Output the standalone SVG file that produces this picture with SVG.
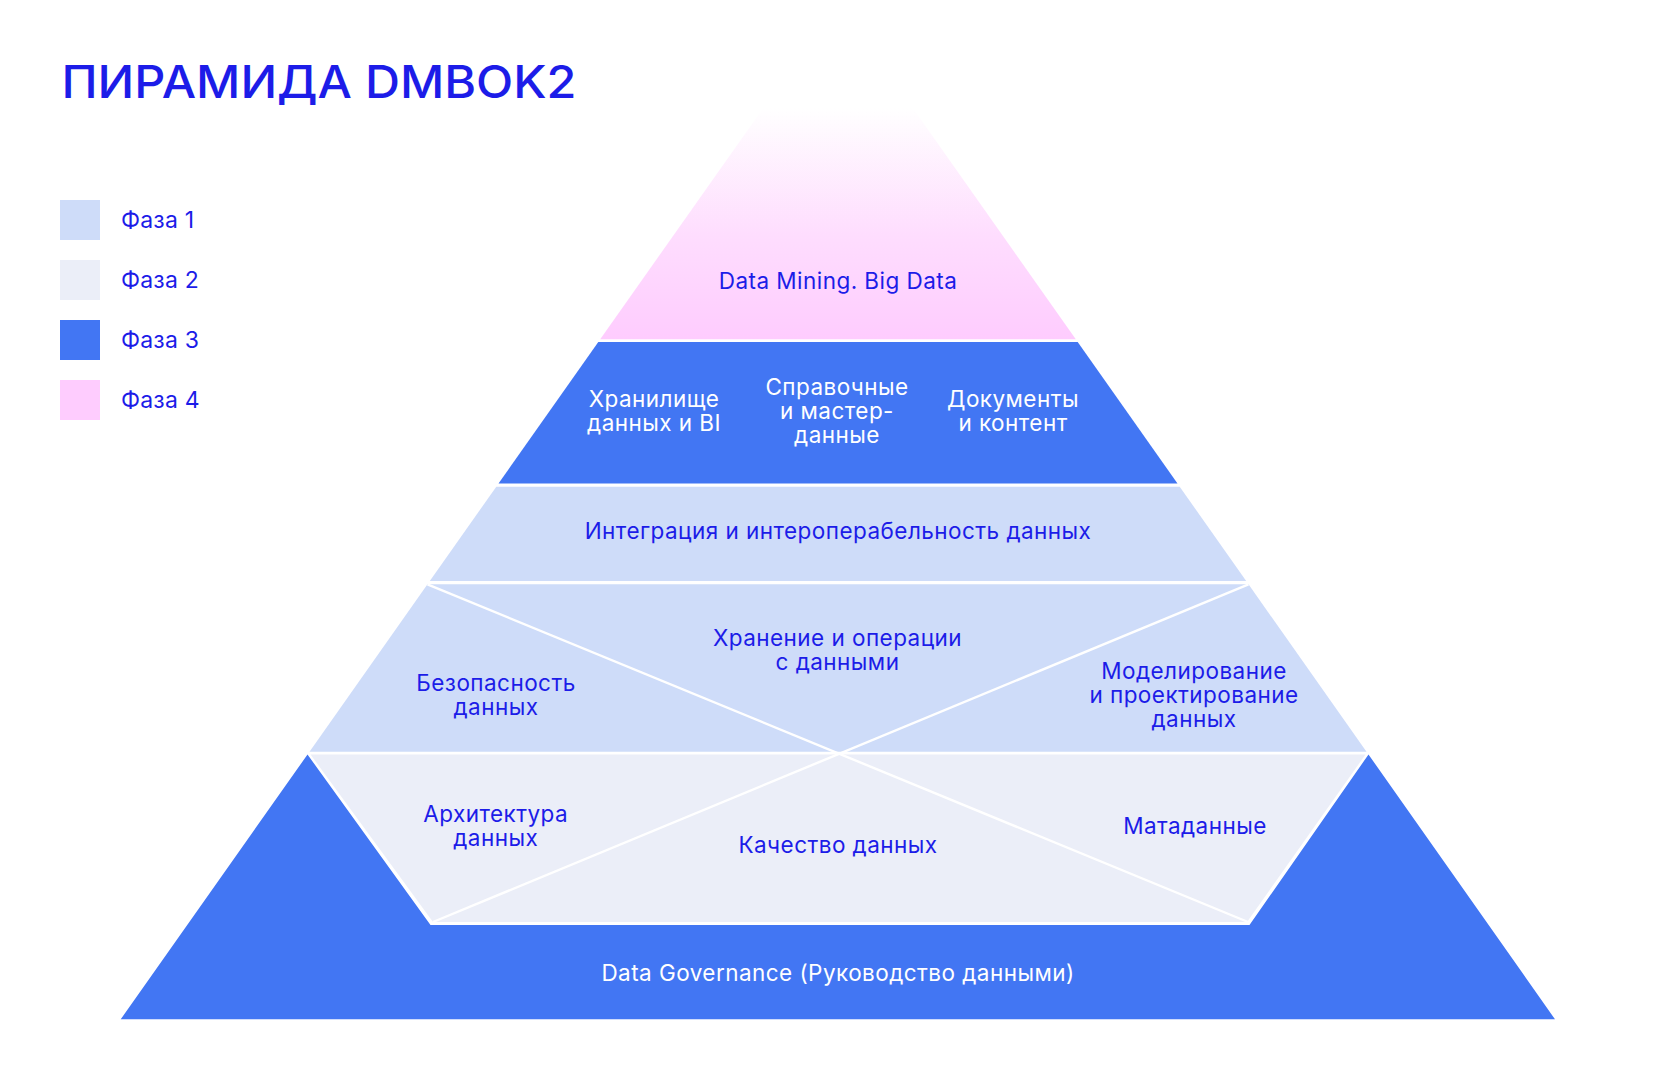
<svg xmlns="http://www.w3.org/2000/svg" width="1676" height="1080" viewBox="0 0 1676 1080">
  <defs>
    <linearGradient id="pinkFade" gradientUnits="userSpaceOnUse" x1="0" y1="339" x2="0" y2="108">
      <stop offset="0" stop-color="#FECCFE"/>
      <stop offset="0.45" stop-color="#FEDDFE"/>
      <stop offset="1" stop-color="#FFFFFF"/>
    </linearGradient>
  </defs>
  <style>
    .t { font-family: Inter, "Noto Sans", "Liberation Sans", sans-serif; font-size: 22.5px; letter-spacing: 0.45px; fill: #1C1CE8; text-anchor: middle; }
    .w { fill: #FFFFFF; }
    .lg { font-family: Inter, "Noto Sans", "Liberation Sans", sans-serif; font-size: 23px; letter-spacing: 0.2px; fill: #1C1CE8; }
    .title { font-family: Inter, "Noto Sans", "Liberation Sans", sans-serif; font-size: 45px; font-weight: 500; fill: #1C1CE8; }
    .p1 { fill: #CEDCF9; }
    .p2 { fill: #EBEEF8; }
    .p3 { fill: #4276F3; }
    .sep { stroke: #FFFFFF; stroke-width: 2.4; fill: none; }
  </style>
  <rect x="0" y="0" width="1676" height="1080" fill="#FFFFFF"/>

  <g id="title">
    <text class="title" x="61.5" y="97.7" textLength="515" lengthAdjust="spacingAndGlyphs">ПИРАМИДА DMBOK2</text>
  </g>

  <g id="legend">
    <g id="legend-phase1">
      <rect class="p1" x="60" y="200" width="40" height="40"/>
      <text class="lg" x="121" y="228.3">Фаза 1</text>
    </g>
    <g id="legend-phase2">
      <rect class="p2" x="60" y="260" width="40" height="40"/>
      <text class="lg" x="121" y="288.3">Фаза 2</text>
    </g>
    <g id="legend-phase3">
      <rect class="p3" x="60" y="320" width="40" height="40"/>
      <text class="lg" x="121" y="348.3">Фаза 3</text>
    </g>
    <g id="legend-phase4">
      <rect fill="#FECCFE" x="60" y="380" width="40" height="40"/>
      <text class="lg" x="121" y="408.3">Фаза 4</text>
    </g>
  </g>

  <g id="tier-data-mining">
    <polygon fill="url(#pinkFade)" points="768.9,100 907.1,100 1075.8,339.3 600.2,339.3"/>
    <text class="t" x="838" y="289.3">Data Mining. Big Data</text>
  </g>

  <g id="tier-phase3">
    <polygon class="p3" points="598.3,342 1077.7,342 1177.5,483.5 498.5,483.5"/>
    <g id="node-dwh">
      <text class="t w" x="654" y="406.7"><tspan x="654">Хранилище</tspan><tspan x="654" dy="24.3">данных и BI</tspan></text>
    </g>
    <g id="node-mdm">
      <text class="t w" x="837" y="394.5"><tspan x="837">Справочные</tspan><tspan x="837" dy="24.3">и мастер-</tspan><tspan x="837" dy="24.3">данные</tspan></text>
    </g>
    <g id="node-docs">
      <text class="t w" x="1013" y="406.7"><tspan x="1013">Документы</tspan><tspan x="1013" dy="24.3">и контент</tspan></text>
    </g>
  </g>

  <g id="tier-integration">
    <polygon class="p1" points="496.3,486.7 1179.7,486.7 1246.2,581 429.8,581"/>
    <text class="t" x="838" y="539.3">Интеграция и интероперабельность данных</text>
  </g>

  <g id="tier-phase1">
    <polygon class="p1" points="427.5,584.3 1248.5,584.3 1366.5,751.7 309.5,751.7"/>
    <g id="node-storage">
      <text class="t" x="837.5" y="646"><tspan x="837.5">Хранение и операции</tspan><tspan x="837.5" dy="24">с данными</tspan></text>
    </g>
    <g id="node-security">
      <text class="t" x="496" y="690.7"><tspan x="496">Безопасность</tspan><tspan x="496" dy="24.3">данных</tspan></text>
    </g>
    <g id="node-modeling">
      <text class="t" x="1194" y="678.7"><tspan x="1194">Моделирование</tspan><tspan x="1194" dy="24.3">и проектирование</tspan><tspan x="1194" dy="24.3">данных</tspan></text>
    </g>
  </g>

  <g id="tier-governance">
    <polygon class="p3" points="120.7,1019.3 307.5,754.5 430.5,925 1249.5,925 1368.5,754.5 1555,1019.3"/>
    <text class="t w" x="838" y="980.7">Data Governance (Руководство данными)</text>
  </g>

  <g id="tier-phase2">
    <polygon class="p2" points="310.5,754.5 1365.5,754.5 1247,922 433,922"/>
    <g id="node-architecture">
      <text class="t" x="495.7" y="821.7"><tspan x="495.7">Архитектура</tspan><tspan x="495.7" dy="24.3">данных</tspan></text>
    </g>
    <g id="node-quality">
      <text class="t" x="838" y="853.3">Качество данных</text>
    </g>
    <g id="node-metadata">
      <text class="t" x="1195" y="834.3">Матаданные</text>
    </g>
  </g>

  <g id="separators">
    <line class="sep" x1="427.5" y1="584.3" x2="1248" y2="922"/>
    <line class="sep" x1="1248.5" y1="584.3" x2="433" y2="922"/>
  </g>
</svg>
